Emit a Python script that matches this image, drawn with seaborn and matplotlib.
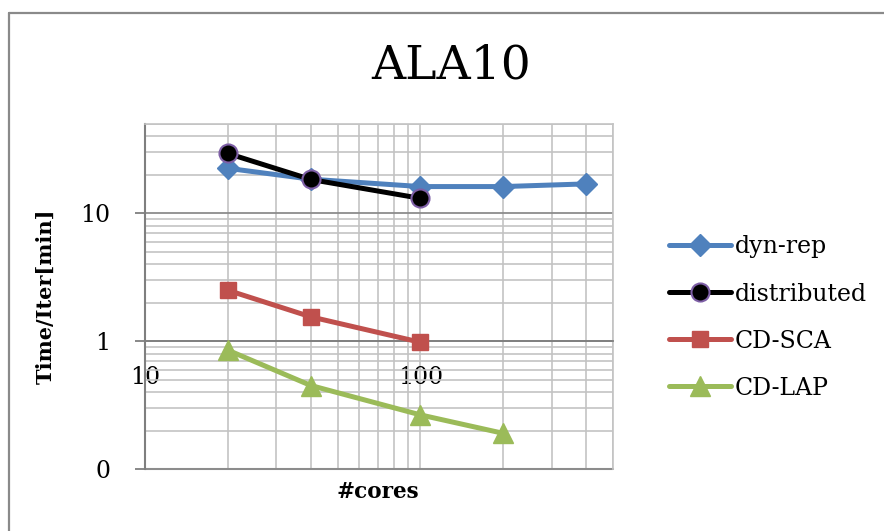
import matplotlib
matplotlib.use("Agg")
import matplotlib.pyplot as plt
import matplotlib.ticker as mticker
from matplotlib.lines import Line2D
import numpy as np
import pandas as pd
import seaborn as sns

# ---- data -------------------------------------------------------------
cores_dyn = [20, 40, 100, 200, 400]
time_dyn = [22.5, 18.5, 16.2, 16.2, 17.0]

cores_dist = [20, 40, 100]
time_dist = [29.4, 18.4, 13.1]

cores_sca = [20, 40, 100]
time_sca = [2.5, 1.55, 0.98]

cores_lap = [20, 40, 100, 200]
time_lap = [0.85, 0.45, 0.265, 0.19]

series_names = ["dyn-rep", "distributed", "CD-SCA", "CD-LAP"]
y_ticks = [0.1, 1, 10]
y_tick_labels = ["0", "1", "10"]
x_ticks = [10, 100]
x_tick_labels = ["10", "100"]

frames = []
for name, xs, ys in zip(series_names,
                        [cores_dyn, cores_dist, cores_sca, cores_lap],
                        [time_dyn, time_dist, time_sca, time_lap]):
    frames.append(pd.DataFrame({"cores": xs, "time": ys, "series": name}))
df = pd.concat(frames, ignore_index=True)

# ---- styling ------------------------------------------------------------
sns.set_theme(style="white")
plt.rcParams["font.family"] = ["DejaVu Serif"]
plt.rcParams["text.color"] = "black"
plt.rcParams["xtick.color"] = "black"
plt.rcParams["ytick.color"] = "black"

styles = {
    "dyn-rep":     dict(color="#4F81BD", marker="D", ms=11.5, mec="#4F81BD", mew=1),
    "distributed": dict(color="#000000", marker="o", ms=13, mec="#7E5FA6", mew=1.5),
    "CD-SCA":      dict(color="#C0504D", marker="s", ms=12, mec="#C0504D", mew=1),
    "CD-LAP":      dict(color="#9BBB59", marker="^", ms=14, mec="#9BBB59", mew=1),
}

fig = plt.figure(figsize=(8.84, 5.31), dpi=100, facecolor="white",
                 edgecolor="white")
ax = fig.add_axes([145 / 884, 1 - 469 / 531, 468 / 884, 345 / 531])

for name in series_names:
    st = styles[name]
    sns.lineplot(data=df[df["series"] == name], x="cores", y="time", ax=ax,
                 color=st["color"], lw=3.6, marker=st["marker"],
                 markersize=st["ms"], markeredgecolor=st["mec"],
                 markeredgewidth=st["mew"], markerfacecolor=st["color"],
                 legend=False, zorder=5)

ax.set_xscale("log")
ax.set_yscale("log")
ax.set_xlim(10, 500)
ax.set_ylim(0.1, 50)

# gridlines
minor_col = "#c3c3c3"
ax.xaxis.set_major_locator(mticker.FixedLocator(x_ticks))
ax.xaxis.set_minor_locator(mticker.LogLocator(base=10, subs=np.arange(2, 10)))
ax.yaxis.set_major_locator(mticker.FixedLocator(y_ticks))
ax.yaxis.set_minor_locator(mticker.LogLocator(base=10, subs=np.arange(2, 10)))
ax.grid(True, which="minor", axis="both", color=minor_col, lw=1.2)
ax.grid(True, which="major", axis="x", color=minor_col, lw=1.2)
ax.grid(True, which="major", axis="y", color="#8c8c8c", lw=1.3)
ax.set_axisbelow(True)

ax.xaxis.set_major_formatter(mticker.FixedFormatter(x_tick_labels))
ax.xaxis.set_minor_formatter(mticker.NullFormatter())
ax.yaxis.set_major_formatter(mticker.FixedFormatter(y_tick_labels))
ax.yaxis.set_minor_formatter(mticker.NullFormatter())

# horizontal axis crosses at y = 1
ax.spines["bottom"].set_position(("data", 1))
ax.spines["bottom"].set_color("#7f7f7f")
ax.spines["bottom"].set_linewidth(1.3)
ax.spines["left"].set_color("#7f7f7f")
ax.spines["left"].set_linewidth(1.5)
for s in ("top", "right"):
    ax.spines[s].set_color(minor_col)
    ax.spines[s].set_linewidth(1.2)
ax.axhline(0.1, color="#8c8c8c", lw=1.5, clip_on=False, zorder=1)

ax.tick_params(axis="x", which="both", length=0, pad=18, labelsize=17,
               labelcolor="black")
ax.tick_params(axis="y", which="major", length=7, width=1.3, color="#7f7f7f",
               direction="out", pad=18, labelsize=17, labelcolor="black",
               left=True)
ax.tick_params(axis="y", which="minor", length=0)

ax.set_xlabel("")
ax.set_ylabel("")
fig.text(378 / 884, 1 - 492 / 531, "#cores", ha="center", va="center",
         fontsize=15.5, fontweight="bold", color="black")
fig.text(46 / 884, 1 - 296 / 531, "Time/Iter[min]", ha="center", va="center",
         rotation=90, fontsize=15, fontweight="bold", color="black")
fig.text(451 / 884, 1 - 66 / 531, "ALA10", ha="center", va="center",
         fontsize=34, color="black")

# legend
handles = [Line2D([], [], color=styles[n]["color"], lw=3.6,
                  marker=styles[n]["marker"], markersize=styles[n]["ms"],
                  markeredgecolor=styles[n]["mec"],
                  markeredgewidth=styles[n]["mew"],
                  markerfacecolor=styles[n]["color"])
           for n in series_names]
leg = fig.legend(handles, series_names, loc="upper left",
                 bbox_to_anchor=(660 / 884, 1 - 226 / 531), frameon=False,
                 fontsize=17, handlelength=2.6, handletextpad=0.15,
                 labelspacing=1.02, borderaxespad=0)
for t in leg.get_texts():
    t.set_color("black")

# outer chart frame (top and left edges)
fig.add_artist(Line2D([9 / 884, 9 / 884], [0, 1 - 13 / 531],
                      color="#8a8a8a", lw=1.6))
fig.add_artist(Line2D([9 / 884, 1], [1 - 13 / 531, 1 - 13 / 531],
                      color="#8a8a8a", lw=1.6))

fig.savefig("out.png", dpi=100, facecolor="white")
